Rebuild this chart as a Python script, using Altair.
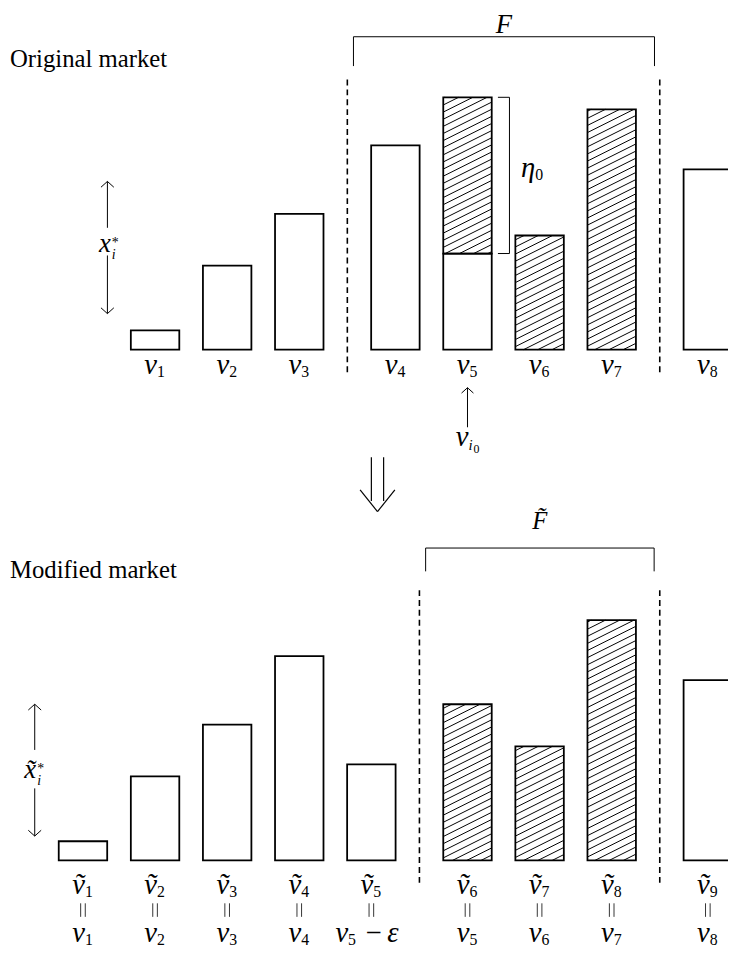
import math
import altair as alt
import pandas as pd

# ---------------- data ----------------
# Original market
top_idx = [1, 2, 3, 4, 5, 6, 7, 8]
top_vals = [0.8, 3.5, 5.65, 8.5, 10.5, 4.75, 10.0, 7.5]
top_group = [0, 0, 0, 1, 1, 1, 1, 2]
top_hatch = [0, 0, 0, 0, 1, 1, 1, 0]
v5_low = 4.0  # unhatched part of v5 (v5 - eta0)
i0 = 5

# Modified market
bot_idx = [1, 2, 3, 4, 5, 6, 7, 8, 9]
bot_vals = [0.8, 3.5, 5.65, 8.5, 4.0, 6.5, 4.75, 10.0, 7.5]
bot_group = [0, 0, 0, 0, 0, 1, 1, 1, 2]
bot_hatch = [0, 0, 0, 0, 0, 1, 1, 1, 0]
bot_orig = ["1", "2", "3", "4", "5", "5", "6", "7", "8"]

# ---------------- layout ----------------
W, H = 728, 945
UX, UY = 72.9, 24.3           # px per slot / px per height unit
XMIN = -0.0398
XMAX = XMIN + W / UX
TOP_MAX = 14.0
BOT_MAX = 35.255
XS = alt.Scale(domain=[XMIN, XMAX], nice=False, zero=False)
YT = alt.Scale(domain=[TOP_MAX - H / UY, TOP_MAX], nice=False, zero=False)
YB = alt.Scale(domain=[BOT_MAX - H / UY, BOT_MAX], nice=False, zero=False)
BW = 49 / UX
GAP = 1 / 3
SERIF = "Liberation Serif"


def positions(idx, group, offset):
    return [i + offset + g * GAP for i, g in zip(idx, group)]


top_p = positions(top_idx, top_group, 1)
bot_p = positions(bot_idx, bot_group, 0)


def separators(p, group):
    out = []
    for k in range(len(p) - 1):
        if group[k] != group[k + 1]:
            out.append((p[k] + p[k + 1]) / 2)
    return out


def hatch_segments(x0, x1, y0, y1, s=0.5, d=7.2):
    X0, X1, Y0, Y1 = x0 * UX, x1 * UX, y0 * UY, y1 * UY
    kmin = math.ceil((Y0 - s * X1) / d)
    kmax = math.floor((Y1 - s * X0) / d)
    segs = []
    for k in range(kmin, kmax + 1):
        c = k * d
        xa = max(X0, (Y0 - c) / s)
        xb = min(X1, (Y1 - c) / s)
        if xb - xa > 0.3:
            segs.append(dict(x=xa / UX, y=(s * xa + c) / UY, x2=xb / UX, y2=(s * xb + c) / UY))
    return segs


def rect_table(p, vals, hatch, split=None):
    rows = []
    for k, (pp, v, h) in enumerate(zip(p, vals, hatch)):
        if split is not None and split[0] == k:
            rows.append(dict(x=pp - BW / 2, x2=pp + BW / 2, y=0, y2=split[1], h=0))
            rows.append(dict(x=pp - BW / 2, x2=pp + BW / 2, y=split[1], y2=v, h=1))
        else:
            rows.append(dict(x=pp - BW / 2, x2=pp + BW / 2, y=0, y2=v, h=h))
    return pd.DataFrame(rows)


def rules(df, ys, width=1.0, dash=None, color="black"):
    kw = dict(strokeWidth=width, color=color)
    if dash:
        kw["strokeDash"] = dash
    return alt.Chart(df).mark_rule(**kw).encode(
        x=alt.X("x:Q", scale=XS, axis=None), x2="x2:Q",
        y=alt.Y("y:Q", scale=ys, axis=None), y2="y2:Q")


def texts(df, ys, size, style="normal", align="center", dx=0, dy=0, baseline="alphabetic", font=SERIF):
    return alt.Chart(df).mark_text(
        font=font, fontSize=size, fontStyle=style, align=align, baseline=baseline,
        dx=dx, dy=dy, color="black").encode(
        x=alt.X("x:Q", scale=XS, axis=None),
        y=alt.Y("y:Q", scale=ys, axis=None),
        text="t:N")


def heads(df, ys, path, size):
    return alt.Chart(df).mark_point(shape=path, size=size, filled=False, stroke="black",
                                    strokeWidth=1, opacity=1).encode(
        x=alt.X("x:Q", scale=XS, axis=None), y=alt.Y("y:Q", scale=ys, axis=None))


UP = "M -1 0.9 L 0 0 L 1 0.9"
DOWN = "M -1 -0.9 L 0 0 L 1 -0.9"


def bars(rdf, ys):
    hs = []
    for r in rdf[rdf.h == 1].itertuples():
        hs += hatch_segments(r.x, r.x2, r.y, r.y2)
    fill = alt.Chart(rdf).mark_rect(fill="white", stroke=None).encode(
        x=alt.X("x:Q", scale=XS, axis=None), x2="x2:Q",
        y=alt.Y("y:Q", scale=ys, axis=None), y2="y2:Q")
    outline = alt.Chart(rdf).mark_rect(fill="white", fillOpacity=0, stroke="black",
                                       strokeWidth=1.8).encode(
        x=alt.X("x:Q", scale=XS, axis=None), x2="x2:Q",
        y=alt.Y("y:Q", scale=ys, axis=None), y2="y2:Q")
    return [fill, rules(pd.DataFrame(hs), ys, width=1.0), outline]


def label_row(p, subs, ys, ybase, main="v", sub_size=16):
    d1 = pd.DataFrame(dict(x=p, y=ybase, t=main))
    d2 = pd.DataFrame(dict(x=p, y=ybase, t=subs))
    return [texts(d1, ys, 29, "italic", "right", dx=2),
            texts(d2, ys, sub_size, "normal", "left", dx=2, dy=3)]


def star_label(x, y, ys, letter):
    return [texts(pd.DataFrame([dict(x=x, y=y, t=letter)]), ys, 27, "italic", "right"),
            texts(pd.DataFrame([dict(x=x, y=y, t="i")]), ys, 14, "italic", "left", dx=1, dy=7),
            texts(pd.DataFrame([dict(x=x, y=y, t="*")]), ys, 14, "normal", "left", dx=1, dy=-5)]


# ================= top panel =================
T = []
T += bars(rect_table(top_p, top_vals, top_hatch, split=(i0 - 1, v5_low)), YT)
seps_t = separators(top_p, top_group)
T.append(rules(pd.DataFrame([dict(x=s, y=-0.94, x2=s, y2=11.28) for s in seps_t]), YT,
               width=1.6, dash=[6, 4]))
# bracket F
fl, fr = seps_t[0] + 0.085, seps_t[1] - 0.073
T.append(rules(pd.DataFrame([dict(x=fl, y=13.02, x2=fr, y2=13.02),
                             dict(x=fl, y=13.02, x2=fl, y2=11.8),
                             dict(x=fr, y=13.02, x2=fr, y2=11.8)]), YT, width=1))
T.append(texts(pd.DataFrame([dict(x=(fl + fr) / 2, y=13.17, t="F")]), YT, 27, "italic"))
# eta0 bracket
p5 = top_p[i0 - 1]
bx, tx = p5 + BW / 2 + 0.246, p5 + BW / 2 + 0.086
T.append(rules(pd.DataFrame([dict(x=bx, y=v5_low, x2=bx, y2=top_vals[i0 - 1]),
                             dict(x=tx, y=v5_low, x2=bx, y2=v5_low),
                             dict(x=tx, y=top_vals[i0 - 1], x2=bx, y2=top_vals[i0 - 1])]), YT, width=1))
T.append(texts(pd.DataFrame([dict(x=bx + 0.275, y=7.2, t="η")]), YT, 29, "italic", "right", dx=6))
T.append(texts(pd.DataFrame([dict(x=bx + 0.275, y=7.2, t="0")]), YT, 16, "normal", "left", dx=6, dy=3))
# title
T.append(texts(pd.DataFrame([dict(x=-0.0123, y=11.75, t="Original market")]), YT, 25,
               "normal", "left"))
# x_i^* arrow
ax = 1.339
T.append(rules(pd.DataFrame([dict(x=ax, y=7.0, x2=ax, y2=5.07),
                             dict(x=ax, y=3.92, x2=ax, y2=1.5)]), YT, width=1))
T.append(heads(pd.DataFrame([dict(x=ax, y=7.0)]), YT, UP, 169))
T.append(heads(pd.DataFrame([dict(x=ax, y=1.5)]), YT, DOWN, 169))
T += star_label(ax + 0.048, 4.07, YT, "x")
# labels
T += label_row(top_p, [str(i) for i in top_idx], YT, -1.02)
# v_{i0} arrow
T.append(rules(pd.DataFrame([dict(x=p5, y=-1.584, x2=p5, y2=-3.23)]), YT, width=1))
T.append(heads(pd.DataFrame([dict(x=p5, y=-1.584)]), YT, UP, 144))
T.append(texts(pd.DataFrame([dict(x=p5, y=-3.99, t="v")]), YT, 29, "italic", "right", dx=1))
T.append(texts(pd.DataFrame([dict(x=p5, y=-3.99, t="i")]), YT, 15, "italic", "left", dx=1, dy=5))
T.append(texts(pd.DataFrame([dict(x=p5, y=-3.99, t="0")]), YT, 12, "normal", "left", dx=6, dy=8))
# double arrow between the markets
T.append(rules(pd.DataFrame([dict(x=5.0, y=-4.48, x2=5.0, y2=-6.3),
                             dict(x=5.17, y=-4.48, x2=5.17, y2=-6.3)]), YT, width=1.2))
T.append(rules(pd.DataFrame([dict(x=4.844, y=-5.83, x2=5.085, y2=-6.74),
                             dict(x=5.085, y=-6.74, x2=5.326, y2=-5.83)]), YT, width=1.2))
top_chart = alt.layer(*T)

# ================= bottom panel =================
B = []
B += bars(rect_table(bot_p, bot_vals, bot_hatch), YB)
seps_b = separators(bot_p, bot_group)
B.append(rules(pd.DataFrame([dict(x=s, y=-0.93, x2=s, y2=11.24) for s in seps_b]), YB,
               width=1.6, dash=[6, 4]))
gl, gr = seps_b[0] + 0.086, seps_b[1] - 0.078
B.append(rules(pd.DataFrame([dict(x=gl, y=13.0, x2=gr, y2=13.0),
                             dict(x=gl, y=13.0, x2=gl, y2=12.03),
                             dict(x=gr, y=13.0, x2=gr, y2=12.03)]), YB, width=1))
B.append(texts(pd.DataFrame([dict(x=(gl + gr) / 2, y=13.774, t="F\u0303")]), YB, 25, "italic"))
B.append(texts(pd.DataFrame([dict(x=-0.0123, y=11.745, t="Modified market")]), YB, 25,
               "normal", "left"))
# x~ arrow
bx2 = 0.331
B.append(rules(pd.DataFrame([dict(x=bx2, y=6.5, x2=bx2, y2=4.6),
                             dict(x=bx2, y=3.0, x2=bx2, y2=1.016)]), YB, width=1))
B.append(heads(pd.DataFrame([dict(x=bx2, y=6.5)]), YB, UP, 169))
B.append(heads(pd.DataFrame([dict(x=bx2, y=1.016)]), YB, DOWN, 169))
B += star_label(0.351, 3.415, YB, "x\u0303")
# labels: v~ row
B += label_row(bot_p, [str(i) for i in bot_idx], YB, -1.383, main="\u1e7d")
# "||" separators
eq = []
for pp in bot_p:
    for off in (-0.032, 0.032):
        eq.append(dict(x=pp + off, y=-1.782, x2=pp + off, y2=-2.346))
B.append(rules(pd.DataFrame(eq), YB, width=0.8))
# bottom v row
keep = [k for k in range(len(bot_p)) if bot_idx[k] != 5]
B += label_row([bot_p[k] for k in keep], [bot_orig[k] for k in keep], YB, -3.375)
p5b = bot_p[4]
B.append(texts(pd.DataFrame([dict(x=p5b, y=-3.375, t="v")]), YB, 29, "italic", "right", dx=-23.5))
B.append(texts(pd.DataFrame([dict(x=p5b, y=-3.375, t=bot_orig[4])]), YB, 16, "normal", "left",
               dx=-23.5, dy=3))
B.append(texts(pd.DataFrame([dict(x=p5b, y=-3.375, t="−")]), YB, 29, "normal", "left", dx=-6))
B.append(texts(pd.DataFrame([dict(x=p5b, y=-3.375, t="ε")]), YB, 29, "italic", "left", dx=16))
bot_chart = alt.layer(*B)

chart = alt.layer(top_chart, bot_chart).resolve_scale(y="independent").properties(
    width=W, height=H, autosize=alt.AutoSizeParams(type="none"), padding=0
).configure_view(stroke=None)

chart.save("out.html", embed_options={"renderer": "svg", "actions": False})
